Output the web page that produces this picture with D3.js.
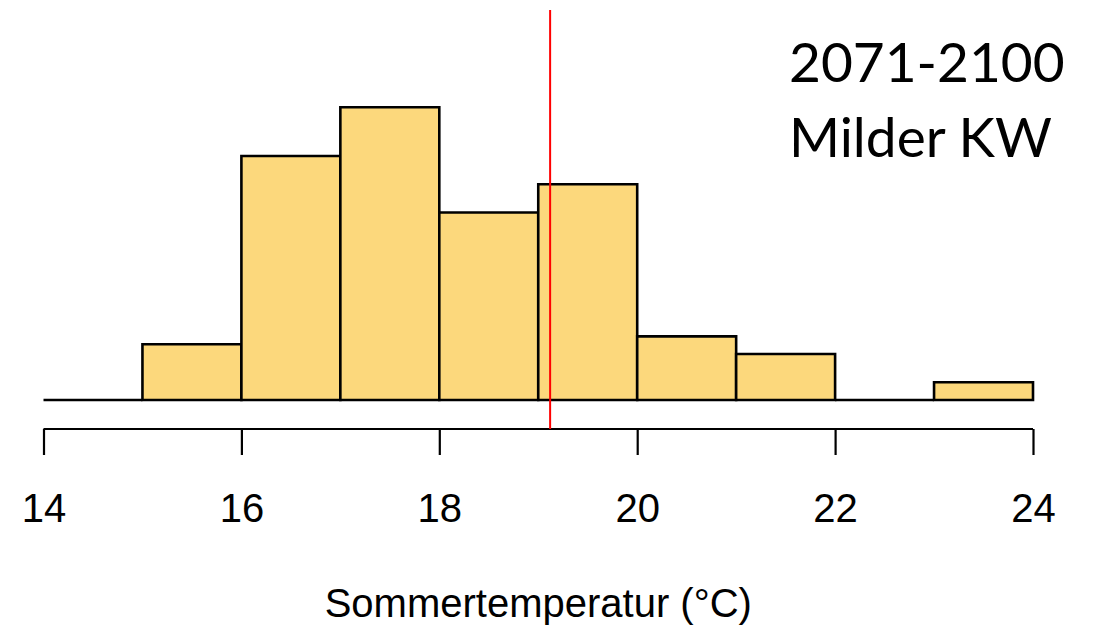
<!DOCTYPE html>
<html>
<head>
<meta charset="utf-8">
<script src="https://cdn.jsdelivr.net/npm/d3@7"></script>
<style>
html,body{margin:0;padding:0;background:#fff;}
svg{display:block;}
</style>
</head>
<body>
<svg id="chart" width="1094" height="626"></svg>
<script>
// Histogram bins (lower edges, upper edges) and estimated heights (counts)
const binStarts = [14, 15, 16, 17, 18, 19, 20, 21, 22, 23];
const binEnds   = [15, 16, 17, 18, 19, 20, 21, 22, 23, 24];
const counts    = [0, 6.3, 27.6, 33.1, 21.2, 24.4, 7.2, 5.2, 0, 2.0];
const tickValues = [14, 16, 18, 20, 22, 24];
const meanValue = 19.12;
const titleLines = ["2071-2100", "Milder KW"];
const xLabel = "Sommertemperatur (°C)";

const svg = d3.select("#chart");
const x = d3.scaleLinear().domain([14, 24]).range([43.5, 1033]);
const y = d3.scaleLinear().domain([0, 33.1]).range([400, 107.3]);

const bins = binStarts.map((s, i) => ({x0: s, x1: binEnds[i], v: counts[i]}));

svg.append("g").selectAll("path").data(bins).enter().append("path")
  .attr("d", d => `M${x(d.x0)},${y(0)}V${y(d.v)}H${x(d.x1)}V${y(0)}Z`)
  .attr("fill", "#fcd87c")
  .attr("stroke", "#000")
  .attr("stroke-width", 2.6)
  .attr("stroke-linejoin", "miter");

// x axis
const axis = d3.axisBottom(x).tickValues(tickValues).tickSize(26).tickPadding(12).tickFormat(d3.format("d"));
const gx = svg.append("g").attr("transform", "translate(0,429)").call(axis);
gx.select(".domain").attr("stroke", "#000").attr("stroke-width", 2.2)
  .attr("d", `M${x(14)},0H${x(24)}`);
gx.selectAll(".tick line").attr("stroke", "#000").attr("stroke-width", 2.2);
gx.selectAll(".tick text").attr("fill", "#000")
  .style("font-family", "'Liberation Sans', Arial, sans-serif")
  .style("font-size", "40px")
  .attr("dy", null).attr("y", 93);

// mean line
svg.append("line")
  .attr("x1", x(meanValue)).attr("x2", x(meanValue))
  .attr("y1", 10).attr("y2", 429)
  .attr("stroke", "#ff0000").attr("stroke-width", 2);

// x label
svg.append("text")
  .attr("x", (x(14) + x(24)) / 2).attr("y", 617)
  .attr("text-anchor", "middle")
  .style("font-family", "'Liberation Sans', Arial, sans-serif")
  .style("font-size", "40px")
  .text(xLabel);

// title
svg.selectAll("text.title").data(titleLines).enter().append("text")
  .attr("class", "title")
  .attr("x", 789)
  .attr("y", (d, i) => 82 + i * 75)
  .style("font-family", "Lato, 'Open Sans', sans-serif")
  .style("font-size", "55px")
  .attr("fill", "#000")
  .text(d => d);
</script>
</body>
</html>
